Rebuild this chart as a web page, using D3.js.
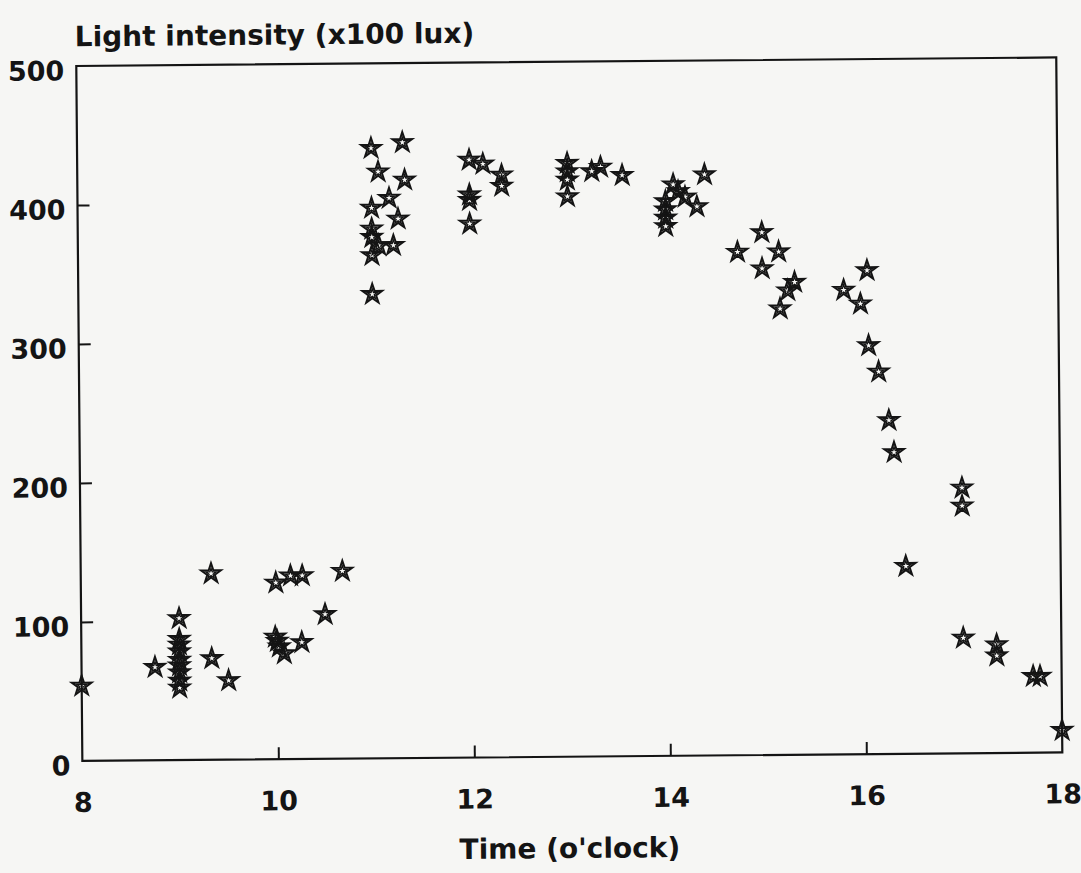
<!DOCTYPE html>
<html>
<head>
<meta charset="utf-8">
<script src="https://cdn.jsdelivr.net/npm/d3@7"></script>
<style>
  html, body { margin: 0; padding: 0; background: #f6f6f4; }
  svg { display: block; }
</style>
</head>
<body>
<div id="chart"></div>
<script>
// ---- data ----
const pointTime = [
  8.0, 8.75,
  9.0, 9.0, 9.0, 9.0, 9.0, 9.0, 9.0, 9.0, 9.0,
  9.33, 9.33, 9.5,
  9.99, 9.98, 10.0, 10.02, 10.07, 10.14, 10.26, 10.25, 10.49, 10.67,
  11.0, 11.0, 11.0, 11.0, 11.0, 11.0, 11.07, 11.07, 11.18, 11.22, 11.27, 11.32, 11.34,
  12.0, 12.0, 12.0, 12.0, 12.14, 12.33, 12.33,
  13.0, 13.0, 13.0, 13.0, 13.25, 13.34, 13.56,
  14.0, 14.0, 14.0, 14.0, 14.08, 14.13, 14.2, 14.32, 14.4,
  14.73, 14.98, 14.98, 15.15, 15.16, 15.24, 15.31,
  15.81, 15.98, 16.05, 16.06, 16.16, 16.26, 16.31, 16.42,
  17.0, 17.0, 17.0, 17.34, 17.34, 17.71, 17.78, 18.0
];
const pointIntensity = [
  54, 67,
  102, 87, 83, 78, 72, 68, 63, 57, 52,
  134, 73, 57,
  127, 88, 85, 81, 76, 132, 132, 84, 104, 135,
  439, 396, 381, 375, 362, 334, 422, 369, 403, 369, 388, 443, 416,
  430, 405, 401, 384, 427, 419, 411,
  427, 421, 415, 403, 421, 424, 418,
  399, 393, 387, 381, 411, 406, 402, 395, 418,
  362, 376, 350, 362, 321, 334, 340,
  334, 324, 348, 294, 275, 240, 217, 135,
  191, 178, 83, 78, 70, 55, 55, 16
];
const xTicks = [8, 10, 12, 14, 16, 18];
const yTicks = [0, 100, 200, 300, 400, 500];
const yTitle = "Light intensity (x100 lux)";
const xTitle = "Time (o'clock)";

// ---- layout ----
const W = 1081, H = 873;
const FONT = "'DejaVu Sans', 'Liberation Sans', Arial, sans-serif";
const INK = "#141414";

const svg = d3.select("#chart").append("svg")
  .attr("width", W).attr("height", H)
  .attr("viewBox", `0 0 ${W} ${H}`);

svg.append("rect").attr("width", W).attr("height", H).attr("fill", "#f6f6f4");

const x = d3.scaleLinear().domain([8, 18]).range([79.3, 1059.3]);
const y = d3.scaleLinear().domain([0, 500]).range([756.7, 61.7]);

// the scanned page is slightly rotated
const g = svg.append("g").attr("transform", "rotate(-0.5,569,409)");

// frame
g.append("rect")
  .attr("x", x(8)).attr("y", y(500))
  .attr("width", x(18) - x(8)).attr("height", y(0) - y(500))
  .attr("fill", "none").attr("stroke", INK).attr("stroke-width", 2.2);

// x axis
const xAxis = g.append("g")
  .attr("transform", `translate(0,${y(0)})`)
  .call(d3.axisBottom(x).tickValues(xTicks).tickSizeInner(-12).tickSizeOuter(0).tickFormat(d3.format("d")));
xAxis.select(".domain").remove();
xAxis.selectAll(".tick line")
  .attr("stroke", INK).attr("stroke-width", 2)
  .attr("display", d => (d === 8 || d === 18) ? "none" : null);
xAxis.selectAll(".tick text")
  .attr("y", 51).attr("dy", 0)
  .attr("font-family", FONT).attr("font-weight", "bold").attr("font-size", 27)
  .attr("fill", INK);

// y axis
const yAxis = g.append("g")
  .attr("transform", `translate(${x(8)},0)`)
  .call(d3.axisLeft(y).tickValues(yTicks).tickSizeInner(-12).tickSizeOuter(0).tickFormat(d3.format("d")));
yAxis.select(".domain").remove();
yAxis.selectAll(".tick line")
  .attr("stroke", INK).attr("stroke-width", 2)
  .attr("display", d => (d === 0 || d === 500) ? "none" : null);
yAxis.selectAll(".tick text")
  .attr("x", -12).attr("y", 4).attr("dy", "0.36em")
  .attr("font-family", FONT).attr("font-weight", "bold").attr("font-size", 27)
  .attr("fill", INK);

// titles
g.append("text")
  .attr("x", 78).attr("y", 42)
  .attr("font-family", FONT).attr("font-weight", "bold").attr("font-size", 28)
  .attr("fill", INK)
  .text(yTitle);

g.append("text")
  .attr("x", 566).attr("y", 858).attr("text-anchor", "middle")
  .attr("font-family", FONT).attr("font-weight", "bold").attr("font-size", 28)
  .attr("fill", INK)
  .text(xTitle);

// star markers
const points = pointTime.map((t, i) => ({ t, v: pointIntensity[i] }));
const outerStar = d3.symbol().type(d3.symbolStar).size(10.4 * 10.4 / 0.8908)();
const innerStar = d3.symbol().type(d3.symbolStar).size(5.4 * 5.4 / 0.8908)();

const marks = g.append("g").selectAll("g.pt")
  .data(points)
  .join("g")
  .attr("class", "pt")
  .attr("transform", d => `translate(${x(d.t)},${y(d.v)})`);

marks.append("path")
  .attr("d", outerStar)
  .attr("fill", "none").attr("stroke", INK)
  .attr("stroke-width", 2).attr("stroke-linejoin", "miter");
marks.append("path")
  .attr("d", innerStar)
  .attr("fill", "none").attr("stroke", INK)
  .attr("stroke-width", 1.3);
</script>
</body>
</html>
